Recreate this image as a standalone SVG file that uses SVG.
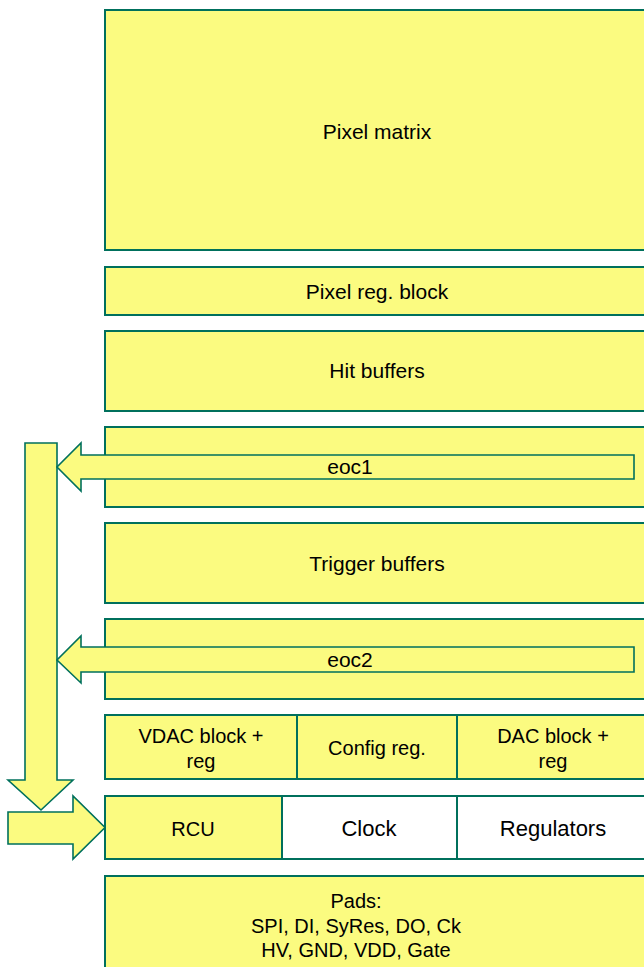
<svg xmlns="http://www.w3.org/2000/svg" width="644" height="967" viewBox="0 0 644 967">
<style>
.b{fill:#FBFB80;stroke:#00705C;stroke-width:2}
.w{fill:#FFFFFF;stroke:#00705C;stroke-width:2}
.a{fill:#FBFB80;stroke:#00705C;stroke-width:1.6;stroke-linejoin:miter}
text{font-family:"Liberation Sans",Arial,sans-serif;font-size:21px;fill:#000;text-anchor:middle}
.s{font-size:20px}
.l{font-size:22px}
</style>
<rect width="644" height="967" fill="#FFFFFF"/>
<g id="pixel-matrix"><rect class="b" x="105" y="10" width="545" height="240"/><text x="377" y="139">Pixel matrix</text></g>
<g id="pixel-reg-block"><rect class="b" x="105" y="267" width="545" height="48"/><text x="377" y="299">Pixel reg. block</text></g>
<g id="hit-buffers"><rect class="b" x="105" y="331" width="545" height="80"/><text x="377" y="378">Hit buffers</text></g>
<g id="eoc1-block"><rect class="b" x="105" y="427" width="545" height="80"/></g>
<g id="trigger-buffers"><rect class="b" x="105" y="523" width="545" height="80"/><text x="377" y="571">Trigger buffers</text></g>
<g id="eoc2-block"><rect class="b" x="105" y="619" width="545" height="80"/></g>
<g id="vdac"><rect class="b" x="105" y="715" width="192" height="64"/><text class="s" x="201" y="743">VDAC block +</text><text class="s" x="201" y="768">reg</text></g>
<g id="config-reg"><rect class="b" x="297" y="715" width="160" height="64"/><text class="s" x="377" y="755">Config reg.</text></g>
<g id="dac"><rect class="b" x="457" y="715" width="193" height="64"/><text class="s" x="553" y="743">DAC block +</text><text class="s" x="553" y="768">reg</text></g>
<g id="rcu"><rect class="b" x="105" y="796" width="177" height="63"/><text class="s" x="193" y="836">RCU</text></g>
<g id="clock"><rect class="w" x="282" y="796" width="175" height="63"/><text class="l" x="369" y="836">Clock</text></g>
<g id="regulators"><rect class="w" x="457" y="796" width="193" height="63"/><text class="l" x="553" y="836">Regulators</text></g>
<g id="pads"><rect class="b" x="105" y="876" width="545" height="100"/><text class="s" x="356" y="908">Pads:</text><text class="s" x="356" y="933">SPI, DI, SyRes, DO, Ck</text><text class="s" x="356" y="957">HV, GND, VDD, Gate</text></g>
<g id="connectors">
<polygon id="bus-down" class="a" points="25,443 57,443 57,780 73,780 41,810 8,780 25,780"/>
<polygon id="to-rcu" class="a" points="8,812 73,812 73,796 105,827.5 73,859 73,844 8,844"/>
<g id="eoc1"><polygon class="a" points="634,455 81,455 81,443 57,467 81,491 81,479 634,479"/><text x="350" y="474">eoc1</text></g>
<g id="eoc2"><polygon class="a" points="634,647 81,647 81,636 57,660 81,683 81,672 634,672"/><text x="350" y="667">eoc2</text></g>
</g>
</svg>
